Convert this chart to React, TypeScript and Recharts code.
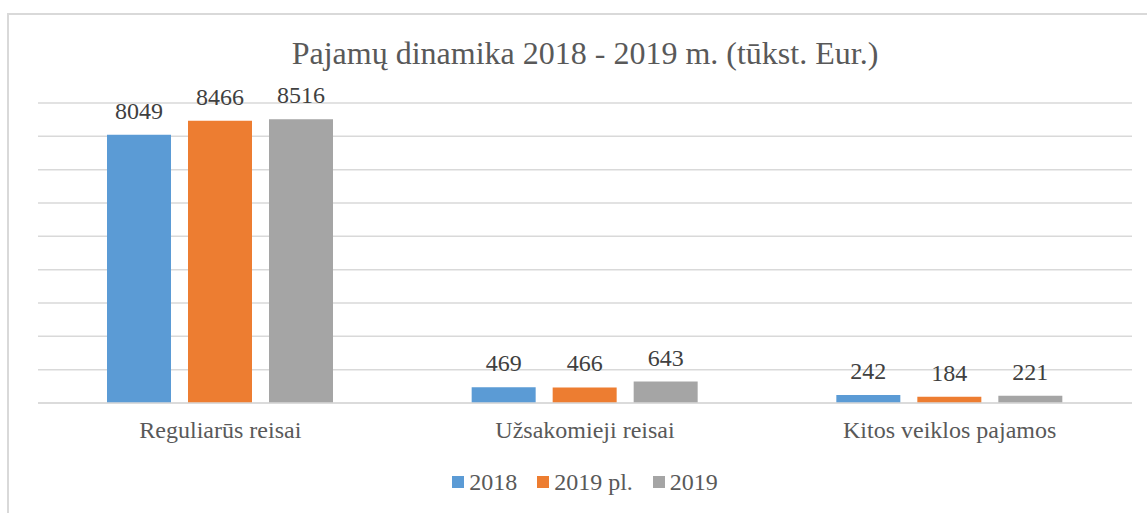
import React from "react";
import { BarChart, Bar, XAxis, YAxis, CartesianGrid, Legend, LabelList } from "recharts";

const categories = ["Reguliarūs reisai", "Užsakomieji reisai", "Kitos veiklos pajamos"];
const values2018 = [8049, 469, 242];
const values2019pl = [8466, 466, 184];
const values2019 = [8516, 643, 221];
const yTicks = [0, 1000, 2000, 3000, 4000, 5000, 6000, 7000, 8000, 9000];

const seriesNames = ["2018", "2019 pl.", "2019"];
const seriesKeys = ["v2018", "v2019pl", "v2019"];
const seriesColors = ["#5B9BD5", "#ED7D31", "#A5A5A5"];

const data = categories.map((c, i) => ({
  name: c,
  v2018: values2018[i],
  v2019pl: values2019pl[i],
  v2019: values2019[i],
}));

const FONT = "Liberation Serif, Tinos, Times New Roman, DejaVu Serif, Noto Serif, serif";

const LegendContent = () => (
  <div
    style={{
      display: "flex",
      justifyContent: "center",
      alignItems: "center",
      fontFamily: FONT,
      fontSize: 24,
      lineHeight: "24px",
      color: "#595959",
      gap: 20,
    }}
  >
    {seriesNames.map((n, i) => (
      <div key={n} style={{ display: "flex", alignItems: "center" }}>
        <span
          style={{
            display: "inline-block",
            width: 12,
            height: 12,
            background: seriesColors[i],
            marginRight: 5,
          }}
        />
        <span>{n}</span>
      </div>
    ))}
  </div>
);

export default function App() {
  return (
    <div
      style={{
        position: "absolute",
        left: 0,
        top: 0,
        width: 1147,
        height: 513,
        overflow: "hidden",
        background: "#fff",
        fontFamily: FONT,
      }}
    >
      <div
        style={{
          position: "absolute",
          left: 7,
          top: 13,
          width: 1200,
          height: 600,
          border: "2px solid #D9D9D9",
          boxSizing: "border-box",
        }}
      />
      <div
        style={{
          position: "absolute",
          left: 38,
          width: 1094,
          top: 37,
          textAlign: "center",
          fontFamily: FONT,
          fontSize: 32,
          lineHeight: "32px",
          color: "#595959",
          whiteSpace: "nowrap",
        }}
      >
        Pajamų dinamika 2018 - 2019 m. (tūkst. Eur.)
      </div>
      <div style={{ position: "absolute", left: 0, top: 0 }}>
        <BarChart
          width={1147}
          height={513}
          data={data}
          margin={{ top: 103, right: 15, left: 38, bottom: 80 }}
          barSize={64}
          barGap={17}
          style={{ fontFamily: FONT }}
        >
          <CartesianGrid vertical={false} stroke="#D9D9D9" strokeWidth={1.5} />
          <YAxis hide type="number" domain={[0, 9000]} ticks={yTicks} />
          <XAxis
            dataKey="name"
            height={30}
            tickLine={false}
            axisLine={{ stroke: "#D9D9D9", strokeWidth: 1.5 }}
            tickMargin={12}
            tick={{ fill: "#595959", fontSize: 24, fontFamily: FONT }}
            interval={0}
          />
          <Legend
            layout="horizontal"
            verticalAlign="middle"
            align="center"
            wrapperStyle={{ top: 470 }}
            content={() => <LegendContent />}
          />
          {seriesKeys.map((k, i) => (
            <Bar key={k} dataKey={k} name={seriesNames[i]} fill={seriesColors[i]} isAnimationActive={false}>
              <LabelList
                dataKey={k}
                position="top"
                offset={16}
                fill="#404040"
                fontSize={24}
                fontFamily={FONT}
              />
            </Bar>
          ))}
        </BarChart>
      </div>
    </div>
  );
}
